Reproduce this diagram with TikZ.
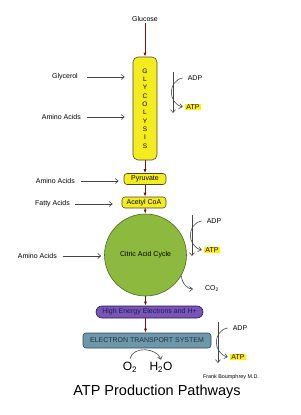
\documentclass[tikz,border=0pt]{standalone}
\usepackage{fontspec}
\setmainfont{Liberation Sans}
\usepackage{xcolor}
\usetikzlibrary{arrows.meta,positioning,calc}
\definecolor{glyyellow}{HTML}{F4EC1E}
\definecolor{glyedge}{HTML}{4A4A30}
\definecolor{tcagreen}{HTML}{8DB93E}
\definecolor{tcaedge}{HTML}{4A6B20}
\definecolor{hepurple}{HTML}{7B55B5}
\definecolor{hetext}{HTML}{1A1A5A}
\definecolor{etsblue}{HTML}{6F97AB}
\definecolor{etsedge}{HTML}{2E4A5A}
\definecolor{flowred}{HTML}{7A1010}
\definecolor{feedgray}{HTML}{454545}

\begin{document}
\begin{tikzpicture}[x=1pt,y=-1pt,
          every node/.style={font=\fontsize{7}{8}\selectfont,inner sep=1pt},
          stagebox/.style={draw=glyedge,fill=glyyellow,rounded corners=3pt,line width=0.6pt},
          atpbox/.style={fill=yellow,inner xsep=1.5pt,inner ysep=1pt},
          flow/.style={draw=flowred,line width=1pt,-{Latex[length=4pt,width=3pt]}},
          feed/.style={draw=feedgray,line width=0.6pt,-{Straight Barb[length=3pt,width=5pt]}},
      ]
        \useasboundingbox (0,0) rectangle (300,415);

        % main pathway
        \node (glucose) at (145,19) {Glucose};
        \node[stagebox,rounded corners=5pt,minimum width=24pt,minimum height=103pt,
              align=center,font=\fontsize{6.5}{8.3}\selectfont] (glyco) at (145,108.5)
              {G\\L\\Y\\C\\O\\L\\Y\\S\\I\\S};
        \node[stagebox,minimum width=42pt,minimum height=11pt] (pyr) at (145,179) {Pyruvate};
        \node[stagebox,minimum width=44pt,minimum height=11pt] (acoa) at (144,202.5) {Acetyl CoA};
        \node[circle,draw=tcaedge,fill=tcagreen,line width=0.6pt,minimum size=82pt] (tca)
              at (145.5,255) {Citric Acid Cycle};
        \node[draw=hetext,fill=hepurple,text=hetext,rounded corners=6pt,line width=0.6pt,
              minimum width=107pt,minimum height=12pt] (he) at (149.5,312) {High Energy Electrons and H+};
        \node[draw=etsedge,fill=etsblue,text=etsedge!70!black,rounded corners=3pt,line width=0.6pt,
              minimum width=128pt,minimum height=15pt] (ets) at (147,340.5) {ELECTRON TRANSPORT SYSTEM};

        \draw[flow] (glucose.south) -- (glyco.north);
        \draw[flow] (glyco.south) -- (pyr.north);
        \draw[flow] (pyr.south) -- (acoa.north -| pyr.south);
        \draw[flow] (acoa.south -| pyr.south) -- (tca.north);
        \draw[flow] (tca.south) -- (he.north -| tca.south);
        \draw[flow] (he.south -| tca.south) -- (ets.north -| tca.south);

        % side inputs
        \node[anchor=east] (glycerol) at (79,77) {Glycerol};
        \node[anchor=east] (amino1) at (82,117) {Amino Acids};
        \node[anchor=east] (amino2) at (76,181) {Amino Acids};
        \node[anchor=east] (fatty) at (71,204) {Fatty Acids};
        \node[anchor=east] (amino3) at (58,256) {Amino Acids};

        \draw[feed,shorten <=8pt,shorten >=8pt] (glycerol.east) -- (glycerol.east -| glyco.west);
        \draw[feed,shorten <=5pt,shorten >=8pt] (amino1.east) -- (amino1.east -| glyco.west);
        \draw[feed,shorten <=5pt,shorten >=5pt] (amino2.east) -- (amino2.east -| pyr.west);
        \draw[feed,shorten <=4pt,shorten >=9pt] (fatty.east) -- (fatty.east -| acoa.west);
        \draw[feed,shorten <=5pt,shorten >=3pt] (amino3.east) -- (amino3.east -| tca.west);

        % ADP -> ATP
        \foreach \xv/\yt/\n in {173/72/1,192/215/2,218/322/3}{
          \coordinate (top\n) at (\xv,\yt);
          \coordinate (bot\n) at (\xv,\yt+41);
          \node (adp\n) at (\xv+22,\yt+6) {ADP};
          \node[atpbox] (atp\n) at (\xv+20,\yt+35) {ATP};
          \draw[feed] (top\n) -- (bot\n);
          \draw[feed] ([xshift=-4pt]adp\n.west) .. controls +(-15,3) and +(-15,-4) .. ([xshift=-2pt]atp\n.west);
        }

        % by-products
        \node (co2) at (212,289) {CO\textsubscript{2}};
        \draw[feed] (tca.-30) .. controls +(1,9) and +(-5,0) .. ([xshift=-11pt]co2.west);

        \node[font=\fontsize{12}{14}\selectfont] (o2) at (130,367) {O\textsubscript{2}};
        \node[font=\fontsize{12}{14}\selectfont] (h2o) at (161,367) {H\textsubscript{2}O};
        \draw[feed] ([yshift=2pt]o2.north) .. controls +(3,-13) and +(-4,-12) .. ([yshift=1pt]h2o.north);

        \node[font=\fontsize{5.4}{6}\selectfont] (author) at (231,377) {Frank Boumphrey M.D.};
        \node[font=\fontsize{14.5}{16}\selectfont] (title) at (157,392) {ATP Production Pathways};
      \end{tikzpicture}
\end{document}
